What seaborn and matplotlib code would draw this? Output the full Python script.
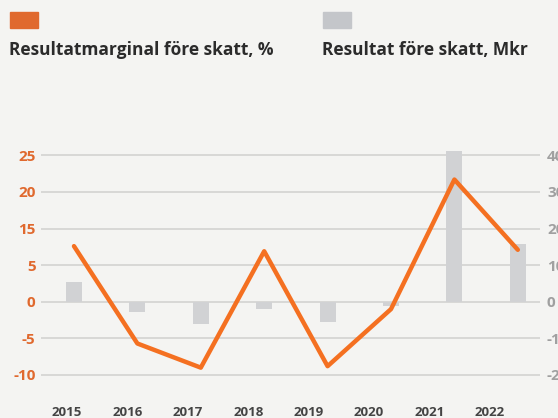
import numpy as np
import seaborn as sns
import matplotlib
matplotlib.use("Agg")
import matplotlib.pyplot as plt
from matplotlib.patches import Rectangle

years = ["2015", "2016", "2017", "2018", "2019", "2020", "2021", "2022"]

# Resultatmarginal före skatt, % (line, left axis)
margin = [7.6, -5.7, -9.0, 6.9, -8.8, -1.0, 16.7, 7.1]
# Resultat före skatt, Mkr (bars, right axis)
result = [5.4, -2.9, -6.1, -2.0, -5.6, -1.2, 41.1, 15.9]

left_ticks = [-10, -5, 0, 5, 10, 15, 20]
left_labels = ["-10", "-5", "0", "5", "15", "20", "25"]
right_ticks = [-20, -10, 0, 10, 20, 30, 40]

bg = "#F4F4F2"
orange = "#F47021"
orange_dark = "#E0692E"
grey_bar = "#D1D2D4"

sns.set_theme(style="white")
plt.rcParams["font.family"] = ["Open Sans", "DejaVu Sans"]

fig = plt.figure(figsize=(5.58, 4.18), dpi=100, facecolor=bg)
W, H = 558, 418
ax = fig.add_axes([41 / W, 1 - 385 / H, (540 - 41) / W, (385 - 140) / H])
ax.set_facecolor("none")
ax2 = ax.twinx()
ax.set_zorder(2)
ax2.set_zorder(1)
ax2.set_facecolor(bg)

x = np.arange(len(years))
ax2.bar(x, result, width=0.25, color=grey_bar, edgecolor="none", linewidth=0, zorder=2)
sns.lineplot(x=x, y=margin, ax=ax, color=orange, linewidth=3.2, zorder=3)

ax.set_ylim(-11.37, 22.1)
ax2.set_ylim(-22.74, 44.2)
ax.set_xlim(-0.52, 7.35)

ax.set_yticks(left_ticks)
ax.set_yticklabels(left_labels)
ax2.set_yticks(right_ticks)
ax2.set_yticklabels([str(t) for t in right_ticks])

for t in right_ticks:
    ax2.axhline(t, color="#D6D6D4", linewidth=1.3, zorder=0)

ax.set_xticks(np.linspace(-0.11, 6.56, 8))
ax.set_xticklabels(years)

ax.tick_params(axis="y", length=0, pad=4, labelsize=11, labelcolor=orange_dark)
ax2.tick_params(axis="y", length=0, pad=5, labelsize=11, labelcolor="#A0A0A0")
ax.tick_params(axis="x", length=0, pad=15, labelsize=9.5, labelcolor="#444444")
for lab in ax.get_yticklabels() + ax2.get_yticklabels() + ax.get_xticklabels():
    lab.set_fontweight("bold")

for a in (ax, ax2):
    for s in a.spines.values():
        s.set_visible(False)
    a.grid(False)
    a.set_ylabel("")

# legend
fig.patches.append(Rectangle((9.5 / W, 1 - 27.5 / H), 28 / W, 15 / H,
                             transform=fig.transFigure, color=orange_dark))
fig.patches.append(Rectangle((323 / W, 1 - 27.5 / H), 28 / W, 15 / H,
                             transform=fig.transFigure, color="#C4C6CA"))
fig.text(9 / W, 1 - 55 / H, "Resultatmarginal före skatt, %", fontsize=12.5,
         fontweight="bold", color="#2B2B2B")
fig.text(322 / W, 1 - 55 / H, "Resultat före skatt, Mkr", fontsize=12.5,
         fontweight="bold", color="#2B2B2B")

fig.savefig("out.png", dpi=100, facecolor=bg)
